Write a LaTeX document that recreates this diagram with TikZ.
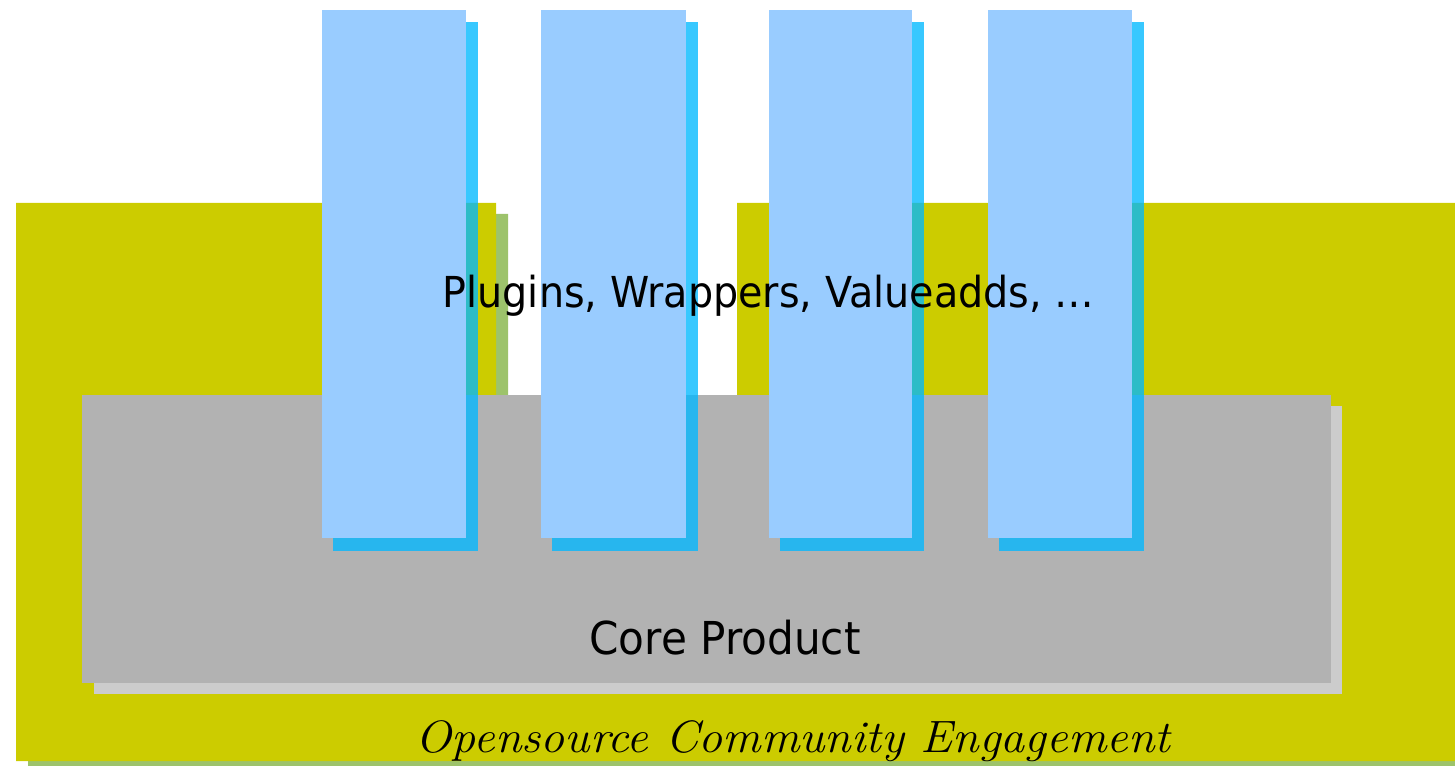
\documentclass[tikz,border=0pt]{standalone}
\usepackage{fontspec}
\newfontfamily\labelfont[FakeStretch=0.93]{DejaVu Sans}
\definecolor{commyellow}{HTML}{CCCC00}
\definecolor{commshadow}{HTML}{9DC36B}
\definecolor{coregray}{HTML}{B2B2B2}
\definecolor{coreshadow}{HTML}{CCCCCC}
\definecolor{barblue}{HTML}{99CCFF}
\definecolor{barshadow}{HTML}{00B8FF}
\tikzset{
  barbox/.style={fill=barblue},
  barshade/.style={fill=barshadow, fill opacity=0.78},
  sanslabel/.style={font=\labelfont, text=black, inner sep=0pt, anchor=base},
}
\begin{document}
\begin{tikzpicture}[x=0.75pt, y=-0.75pt]
\useasboundingbox (0,0) rectangle (1455,766);
\clip (0,0) rectangle (1455,766);
% community engagement (U shape) with shadow
\fill[commshadow] (28,214) -- (508,214) -- (508,412) -- (749,412) -- (749,214) -- (1480,214) -- (1480,773) -- (28,773) -- cycle;
\fill[commyellow] (16,203) -- (496,203) -- (496,400) -- (737,400) -- (737,203) -- (1470,203) -- (1470,761) -- (16,761) -- cycle;
% core product
\fill[coreshadow] (94,406) rectangle (1342,694);
\fill[coregray] (82,395) rectangle (1331,683);
% plugin bars
\foreach \a/\b in {322/466, 541/686, 769/912, 988/1132}{
  \fill[barshade] (\a+11,22) rectangle (\b+12,551);
  \fill[barbox] (\a,10) rectangle (\b,538);
}
% labels
\node[sanslabel, font=\labelfont\fontsize{32pt}{38pt}\selectfont] (plugins) at (768.5,308) {Plugins, Wrappers, Valueadds, …};
\node[sanslabel, font=\labelfont\fontsize{34pt}{40pt}\selectfont] (core) at (725,654) {Core Product};
\node[inner sep=0pt, anchor=base, font=\itshape\fontsize{34pt}{40pt}\selectfont] (community) at (793,752) {\scalebox{1.06}[1]{Opensource Community Engagement}};
\end{tikzpicture}
\end{document}
